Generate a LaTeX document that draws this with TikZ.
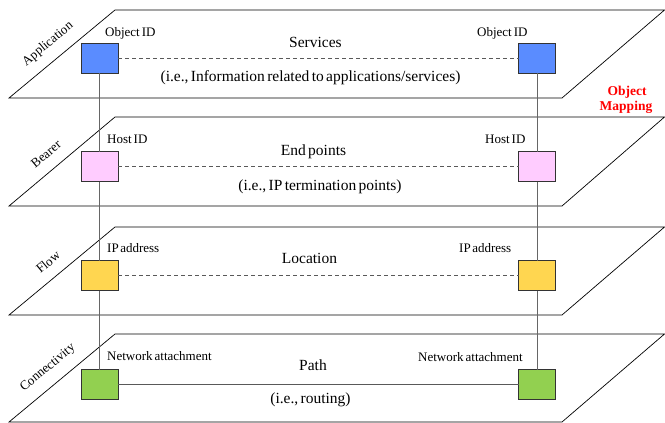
\documentclass[tikz,border=0pt]{standalone}
\usepackage{fontspec}
\setmainfont[WordSpace=0.6]{Liberation Serif}
\definecolor{cblue}{RGB}{90,140,255}
\definecolor{cpink}{RGB}{255,204,255}
\definecolor{cyellow}{RGB}{255,214,80}
\definecolor{cgreen}{RGB}{146,208,80}
\tikzset{
  plane/.style={draw=black, line width=0.7pt},
  sq/.style={draw=black!80, line width=0.7pt, minimum width=37, minimum height=30, inner sep=0, outer sep=0},
  vline/.style={draw=black!60, line width=0.9pt},
  dline/.style={draw=black!65, line width=0.8pt, dash pattern=on 4pt off 3pt},
  sline/.style={draw=black!65, line width=0.9pt},
  lbl/.style={font=\fontsize{13}{15}\selectfont, inner sep=0},
  ctr/.style={font=\fontsize{15.5}{18}\selectfont, inner sep=0},
  side/.style={font=\fontsize{13}{15}\selectfont, inner sep=0, rotate=39.7},
  mapl/.style={font=\fontsize{13.5}{15}\selectfont\bfseries, text=red, inner sep=0, align=center},
}
\begin{document}
\begin{tikzpicture}[x=1pt,y=-1pt]
\useasboundingbox (0,0) rectangle (665,423);
% planes
\foreach \t/\b in {10/98, 117/206, 227/315, 334/422}{
  \draw[plane] (115,\t) -- (664.5,\t) -- (562,\b) -- (9,\b) -- cycle;
}
% squares
\node[sq, fill=cblue]   (appL) at (99.5,58) {};
\node[sq, fill=cblue]   (appR) at (537,58) {};
\node[sq, fill=cpink]   (beaL) at (99.5,166.5) {};
\node[sq, fill=cpink]   (beaR) at (537,166.5) {};
\node[sq, fill=cyellow] (floL) at (99.5,275.5) {};
\node[sq, fill=cyellow] (floR) at (537,275.5) {};
\node[sq, fill=cgreen]  (conL) at (99.5,384.5) {};
\node[sq, fill=cgreen]  (conR) at (537,384.5) {};
% vertical links
\draw[vline] (appL) -- (beaL);
\draw[vline] (beaL) -- (floL);
\draw[vline] (floL) -- (conL);
\draw[vline] (appR) -- (beaR);
\draw[vline] (beaR) -- (floR);
\draw[vline] (floR) -- (conR);
% horizontal links
\draw[dline] (appL) -- (appR);
\draw[dline] (beaL) -- (beaR);
\draw[dline] (floL) -- (floR);
\draw[sline] (conL) -- (conR);
% square labels
\node[lbl, anchor=base west] (l1) at (105,36) {Object ID};
\node[lbl, anchor=base west] (r1) at (477,36) {Object ID};
\node[lbl, anchor=base west] (l2) at (107,143) {Host ID};
\node[lbl, anchor=base west] (r2) at (485,143) {Host ID};
\node[lbl, anchor=base west] (l3) at (107,252) {IP\kern1.5pt address};
\node[lbl, anchor=base west] (r3) at (459,252) {IP\kern1.5pt address};
\node[lbl, anchor=base west] (l4) at (107,360) {Network attachment};
\node[lbl, anchor=base west] (r4) at (418,361) {Network attachment};
% centre texts
\node[ctr, anchor=base] (c1) at (315.5,47) {Services};
\node[ctr, anchor=base] (c1b) at (310.5,81) {(i.e., Information related to applications/services)};
\node[ctr, anchor=base] (c2) at (313.5,155) {End points};
\node[ctr, anchor=base] (c2b) at (320,190) {(i.e., IP termination points)};
\node[ctr, anchor=base] (c3) at (309.5,263) {Location};
\node[ctr, anchor=base] (c4) at (313,370) {Path};
\node[ctr, anchor=base] (c4b) at (310.5,403) {(i.e., routing)};
% side labels
\node[side] (s1) at (48,44) {Application};
\node[side] (s2) at (46,154) {Bearer};
\node[side] (s3) at (48,262) {Flow};
\node[side] (s4) at (48,368) {Connectivity};
% object mapping
\node[mapl, anchor=base] (om1) at (627,95) {Object};
\node[mapl, anchor=base] (om2) at (626,110) {Mapping};
\end{tikzpicture}
\end{document}
